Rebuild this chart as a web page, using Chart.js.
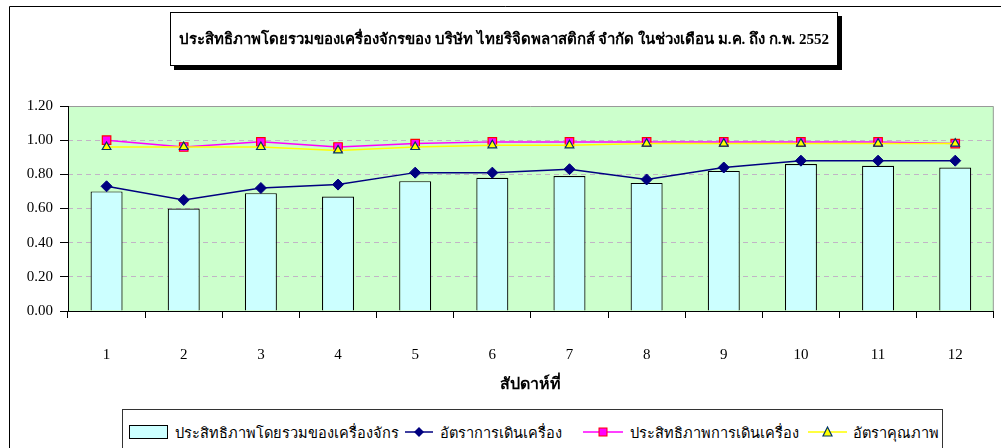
<!DOCTYPE html>
<html>
<head>
<meta charset="utf-8">
<script src="https://cdn.jsdelivr.net/npm/chart.js@4.4.1/dist/chart.umd.min.js"></script>
<style>
  html, body { margin:0; padding:0; background:#fff; width:1001px; height:448px; overflow:hidden; }
  #wrap { position:relative; width:1001px; height:448px; }
  canvas { position:absolute; left:0; top:0; }
  #title {
    position:absolute; left:170px; top:12px; width:666px; height:52px;
    border:1px solid #000; background:#fff; box-shadow:4px 4px 0 #000;
    font-family:"Liberation Serif","DejaVu Serif",serif; font-weight:bold; font-size:15px;
    display:flex; align-items:center; justify-content:center; white-space:nowrap; color:#000;
  }
  #legend {
    position:absolute; left:122px; top:409px; width:819px; height:60px;
    border:1px solid #333; background:#fff;
    font-family:"Liberation Serif","DejaVu Serif",serif; font-size:14.6px; color:#000;
  }
  .li { position:absolute; top:12px; height:20px; display:flex; align-items:center; white-space:nowrap; }
</style>
</head>
<body>
<div id="wrap">
  <canvas id="c" width="1001" height="448"></canvas>
  <div id="title">ประสิทธิภาพโดยรวมของเครื่องจักรของ บริษัท ไทยริจิดพลาสติกส์ จำกัด ในช่วงเดือน ม.ค. ถึง ก.พ. 2552</div>
  <div id="legend">
    <div class="li" style="left:6px"><svg width="40" height="16" style="margin-right:6px"><rect x="0.5" y="1.5" width="38" height="13" fill="#ccffff" stroke="#000"/></svg><span id="l0"></span></div>
    <div class="li" style="left:282px"><svg width="28" height="16" style="margin-right:7px"><line x1="0" y1="8" x2="28" y2="8" stroke="#000080" stroke-width="1.5"/><polygon points="14,3 19,8 14,13 9,8" fill="#000080"/></svg><span id="l1"></span></div>
    <div class="li" style="left:460px"><svg width="40" height="16" style="margin-right:7px"><line x1="0" y1="8" x2="40" y2="8" stroke="#ff00ff" stroke-width="1.5"/><rect x="16" y="4" width="8" height="8" fill="#ff00ff" stroke="#ff0000" stroke-width="1"/></svg><span id="l2"></span></div>
    <div class="li" style="left:685px"><svg width="39" height="16" style="margin-right:6px"><line x1="0" y1="8" x2="39" y2="8" stroke="#ffff00" stroke-width="1.5"/><polygon points="19.5,3 24,12 15,12" fill="#ffff00" stroke="#003366" stroke-width="1.2"/></svg><span id="l3"></span></div>
  </div>
</div>
<script>
const categories = ['1','2','3','4','5','6','7','8','9','10','11','12'];
const seriesNames = ['ประสิทธิภาพโดยรวมของเครื่องจักร','อัตราการเดินเครื่อง','ประสิทธิภาพการเดินเครื่อง','อัตราคุณภาพ'];
const overallEff = [0.70,0.60,0.69,0.67,0.76,0.78,0.79,0.75,0.82,0.86,0.85,0.84];
const availability = [0.73,0.65,0.72,0.74,0.81,0.81,0.83,0.77,0.84,0.88,0.88,0.88];
const performance = [1.00,0.96,0.99,0.96,0.98,0.99,0.99,0.99,0.99,0.99,0.99,0.98];
const quality = [0.96,0.96,0.96,0.94,0.96,0.97,0.97,0.98,0.98,0.98,0.98,0.98];
const yTicks = [0,0.2,0.4,0.6,0.8,1.0,1.2];
const xTitle = 'สัปดาห์ที่';

seriesNames.forEach((n,i)=>{ document.getElementById('l'+i).textContent = n; });

const frame = {
  id:'frame',
  beforeDraw(chart){
    const {ctx, chartArea:a} = chart;
    ctx.save();
    ctx.fillStyle = '#ccffcc';
    ctx.fillRect(a.left, a.top, a.right-a.left, a.bottom-a.top);
    ctx.strokeStyle = '#999';
    ctx.lineWidth = 1;
    ctx.beginPath();
    ctx.moveTo(a.left, a.top+0.5); ctx.lineTo(a.right-0.5, a.top+0.5); ctx.lineTo(a.right-0.5, a.bottom);
    ctx.stroke();
    ctx.strokeStyle = '#000';
    ctx.beginPath();
    ctx.moveTo(9.5, 448); ctx.lineTo(9.5, 6.5); ctx.lineTo(1001, 6.5);
    ctx.stroke();
    ctx.restore();
  }
};

const serif = "'Liberation Serif','DejaVu Serif',serif";

new Chart(document.getElementById('c'), {
  type:'bar',
  data:{
    labels:categories,
    datasets:[
      { type:'bar', label:seriesNames[0], data:overallEff, backgroundColor:'#ccffff', borderColor:'#000', borderWidth:1.2, barPercentage:0.415, categoryPercentage:1, order:4 },
      { type:'line', label:seriesNames[1], data:availability, borderColor:'#000080', borderWidth:1.5, pointStyle:'rectRot', pointRadius:5.5, pointBackgroundColor:'#000080', pointBorderColor:'#000080', pointBorderWidth:1, order:3 },
      { type:'line', label:seriesNames[2], data:performance, borderColor:'#ff00ff', borderWidth:1.5, pointStyle:'rect', pointRadius:6, pointBackgroundColor:'#ff00ff', pointBorderColor:'#ff0000', pointBorderWidth:1.2, order:2 },
      { type:'line', label:seriesNames[3], data:quality, borderColor:'#ffff00', borderWidth:1.5, pointStyle:'triangle', pointRadius:5, pointBackgroundColor:'#ffff00', pointBorderColor:'#003366', pointBorderWidth:1.2, order:1 }
    ]
  },
  options:{
    responsive:false, animation:false, devicePixelRatio:1,
    layout:{ padding:{ top:106, right:7, left:0, bottom:0 } },
    plugins:{ legend:{display:false}, title:{display:false}, tooltip:{enabled:false} },
    scales:{
      x:{
        grid:{ drawOnChartArea:false, drawTicks:true, tickLength:7, color:'#000', offset:true },
        border:{ color:'#000', width:1 },
        ticks:{ font:{family:serif, size:15}, color:'#000', padding:28 },
        title:{ display:true, text:xTitle, font:{family:serif, size:16, weight:'bold'}, color:'#000', padding:{top:0,bottom:54} },
        afterFit(s){ s.height = 137; }
      },
      y:{
        min:0, max:1.2, position:'left',
        afterBuildTicks(s){ s.ticks = yTicks.map(v=>({value:v})); },
        grid:{ drawOnChartArea:false, drawTicks:true, tickLength:8, color:'#000' },
        border:{ color:'#000', width:1 },
        ticks:{ font:{family:serif, size:15}, color:'#000', padding:7, callback:v=>Number(v).toFixed(2) },
        afterFit(s){ s.width = 68; }
      },
      y2:{
        min:0, max:1.2, position:'left', display:true,
        afterBuildTicks(s){ s.ticks = yTicks.map(v=>({value:v})); },
        ticks:{ display:false },
        grid:{ drawTicks:false, color:(c)=> (c.tick && c.tick.value>0.001 && c.tick.value<1.19) ? '#c2b4c6' : 'rgba(0,0,0,0)', lineWidth:1 },
        border:{ display:false, dash:[5,4] },
        afterFit(s){ s.width = 0; }
      }
    }
  },
  plugins:[frame]
});
</script>
</body>
</html>
